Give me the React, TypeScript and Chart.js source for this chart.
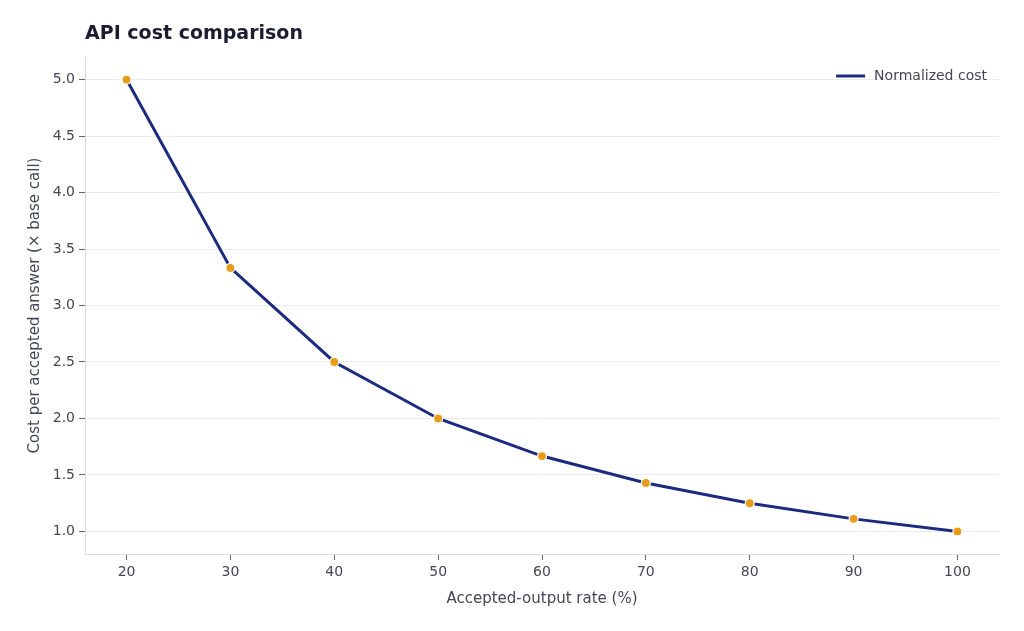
import React, { useEffect, useRef } from 'react';
import { Chart, registerables } from 'chart.js';

Chart.register(...registerables);

const acceptRates: number[] = [20, 30, 40, 50, 60, 70, 80, 90, 100];
const normalizedCost: number[] = [5.0, 3.333, 2.5, 2.0, 1.667, 1.429, 1.25, 1.111, 1.0];
const xTicks: number[] = [20, 30, 40, 50, 60, 70, 80, 90, 100];
const yTicks: number[] = [1.0, 1.5, 2.0, 2.5, 3.0, 3.5, 4.0, 4.5, 5.0];

const FONT = "'DejaVu Sans', sans-serif";
const TEXT = '#444655';
const LINE = '#1c2a80';

// title and legend drawn by hand so they line up with the plot area
const decorPlugin = {
  id: 'decor',
  afterDraw(chart: Chart) {
    const ctx = chart.ctx;
    const area = chart.chartArea;
    ctx.save();
    ctx.font = `bold 19px ${FONT}`;
    ctx.fillStyle = '#1b1d30';
    ctx.textBaseline = 'middle';
    ctx.textAlign = 'left';
    ctx.fillText('API cost comparison', area.left, 34);

    const label = chart.data.datasets[0].label || '';
    ctx.font = `14px ${FONT}`;
    ctx.fillStyle = TEXT;
    ctx.textAlign = 'right';
    const textRight = area.right - 12;
    const w = ctx.measureText(label).width;
    ctx.fillText(label, textRight, 76);
    const lineEnd = textRight - w - 9;
    ctx.strokeStyle = LINE;
    ctx.lineWidth = 3;
    ctx.beginPath();
    ctx.moveTo(lineEnd - 29, 76);
    ctx.lineTo(lineEnd, 76);
    ctx.stroke();
    ctx.restore();
  },
};

const App: React.FC = () => {
  const chartRef = useRef<HTMLCanvasElement>(null);

  useEffect(() => {
    if (!chartRef.current) return;
    const chart = new Chart(chartRef.current, {
      type: 'line',
      data: {
        datasets: [
          {
            label: 'Normalized cost',
            data: acceptRates.map((x, i) => ({ x, y: normalizedCost[i] })),
            borderColor: LINE,
            backgroundColor: LINE,
            borderWidth: 3,
            tension: 0,
            pointRadius: 4.5,
            pointBackgroundColor: '#e89b16',
            pointBorderColor: '#ffffff',
            pointBorderWidth: 1.2,
          },
        ],
      },
      options: {
        animation: false,
        responsive: true,
        maintainAspectRatio: false,
        layout: { padding: { top: 57, right: 25, left: 22, bottom: 19 } },
        plugins: {
          title: { display: false },
          tooltip: { enabled: false },
          legend: { display: false },
        },
        scales: {
          x: {
            type: 'linear',
            min: 16,
            max: 104,
            afterBuildTicks: (scale: any) => {
              scale.ticks = xTicks.map((v) => ({ value: v }));
            },
            afterFit: (scale: any) => {
              scale.height = 58;
            },
            grid: {
              drawOnChartArea: false,
              drawTicks: true,
              tickLength: 6,
              tickColor: '#666',
            },
            border: { color: '#dddddd', width: 1 },
            ticks: {
              color: TEXT,
              font: { family: FONT, size: 14 },
              padding: 4,
            },
            title: {
              display: true,
              text: 'Accepted-output rate (%)',
              color: TEXT,
              font: { family: FONT, size: 15 },
              padding: { top: 8 },
            },
          },
          y: {
            type: 'linear',
            min: 0.8,
            max: 5.2,
            afterBuildTicks: (scale: any) => {
              scale.ticks = yTicks.map((v) => ({ value: v }));
            },
            afterFit: (scale: any) => {
              scale.width = 63;
            },
            grid: {
              color: '#ebebeb',
              drawTicks: true,
              tickLength: 6,
              tickColor: '#666',
            },
            border: { color: '#dddddd', width: 1 },
            ticks: {
              color: TEXT,
              font: { family: FONT, size: 14 },
              padding: 4,
              callback: (v: any) => Number(v).toFixed(1),
            },
            title: {
              display: true,
              text: 'Cost per accepted answer (× base call)',
              color: TEXT,
              font: { family: FONT, size: 15 },
              padding: { bottom: 0 },
            },
          },
        },
      },
      plugins: [decorPlugin],
    });
    return () => {
      chart.destroy();
    };
  }, []);

  return (
    <div style={{ position: 'absolute', left: 0, top: 0, width: 1024, height: 631, background: '#fff' }}>
      <canvas ref={chartRef} />
    </div>
  );
};

export default App;
